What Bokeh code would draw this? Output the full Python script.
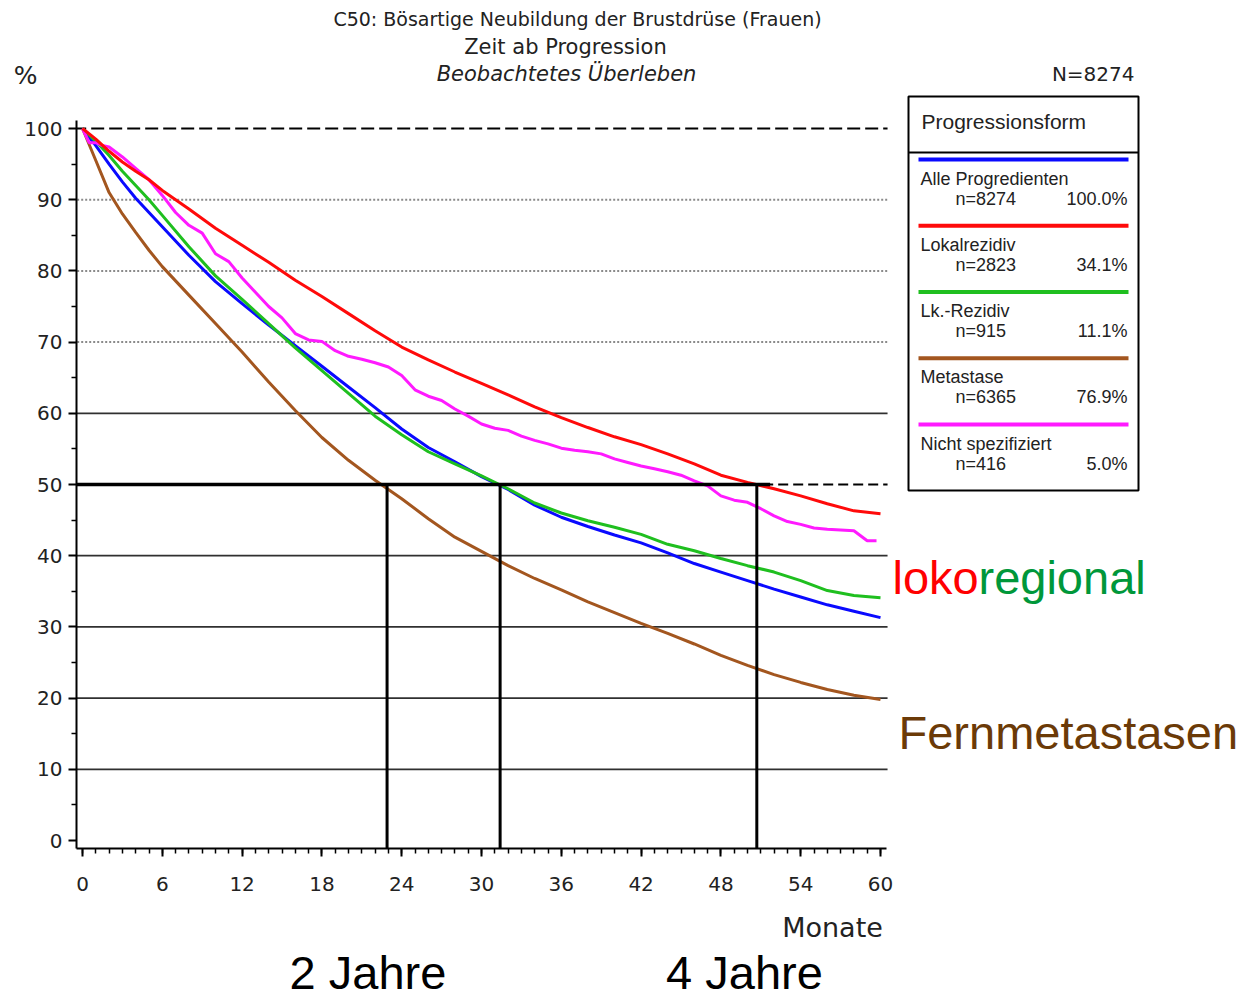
from bokeh.plotting import figure
from bokeh.models import Range1d, FixedTicker, Label, LinearAxis
from bokeh.embed import file_html
from bokeh.resources import INLINE

# ---------------- data ----------------
months = [0, 1, 2, 3, 4, 5, 6, 8, 10, 12, 14, 16, 18, 20, 22, 24, 26, 28, 30,
          32, 34, 36, 38, 40, 42, 44, 46, 48, 50, 52, 54, 56, 58, 60]

alle = [100, 97.6, 95.0, 92.5, 90.2, 88.2, 86.2, 82.2, 78.5, 75.4, 72.4, 69.5,
        66.6, 63.7, 60.8, 57.8, 55.2, 53.2, 51.1, 49.3, 47.1, 45.4, 44.1, 42.9,
        41.8, 40.4, 38.9, 37.7, 36.5, 35.3, 34.2, 33.1, 32.2, 31.3]
lokal = [100, 98.5, 96.8, 95.3, 94.0, 92.8, 91.3, 88.7, 86.0, 83.6, 81.2, 78.7,
         76.4, 74.0, 71.6, 69.3, 67.5, 65.8, 64.2, 62.6, 60.9, 59.4, 58.0, 56.7,
         55.6, 54.3, 52.9, 51.3, 50.3, 49.4, 48.4, 47.3, 46.3, 45.9]
lk = [100, 98.2, 96.2, 94.0, 92.0, 90.0, 87.8, 83.4, 79.3, 76.0, 72.6, 69.2,
      66.0, 62.8, 59.6, 57.0, 54.6, 52.9, 51.2, 49.4, 47.4, 46.0, 44.9, 44.0,
      43.0, 41.6, 40.7, 39.6, 38.6, 37.7, 36.5, 35.1, 34.4, 34.1]
meta = [100, 95.5, 91.0, 88.0, 85.4, 82.9, 80.6, 76.6, 72.6, 68.6, 64.4, 60.4,
        56.6, 53.4, 50.6, 48.0, 45.2, 42.6, 40.6, 38.6, 36.8, 35.2, 33.5, 32.0,
        30.5, 29.1, 27.6, 26.0, 24.6, 23.3, 22.2, 21.2, 20.4, 19.8]

months_ns = [0, 0.5, 1, 1.5, 2, 3, 4, 5, 6, 7, 8, 9, 10, 11, 12, 13, 14, 15, 16,
             17, 18, 19, 20, 21, 22, 23, 24, 25, 26, 27, 28, 29, 30, 31, 32, 33,
             34, 35, 36, 37, 38, 39, 40, 41, 42, 43, 44, 45, 46, 47, 48, 49, 50,
             51, 52, 53, 54, 55, 56, 57, 58, 59, 59.7]
nicht = [100, 98.0, 98.0, 97.6, 97.4, 96.0, 94.4, 92.8, 90.6, 88.2, 86.4, 85.3,
         82.4, 81.3, 79.0, 77.0, 75.0, 73.4, 71.2, 70.3, 70.1, 68.8, 68.0, 67.6,
         67.1, 66.5, 65.3, 63.3, 62.4, 61.8, 60.6, 59.6, 58.5, 57.9, 57.6, 56.8,
         56.2, 55.7, 55.1, 54.8, 54.6, 54.3, 53.6, 53.1, 52.6, 52.2, 51.8, 51.3,
         50.5, 49.8, 48.4, 47.8, 47.5, 46.6, 45.6, 44.8, 44.4, 43.9, 43.7, 43.6,
         43.5, 42.1, 42.1]

medians = [22.9, 31.4, 50.7]

x_ticks = [0, 6, 12, 18, 24, 30, 36, 42, 48, 54, 60]
x_minor = list(range(0, 61))
y_ticks = [0, 10, 20, 30, 40, 50, 60, 70, 80, 90, 100]
y_minor = [5, 15, 25, 35, 45, 55, 65, 75, 85, 95]
solid_levels = [10, 20, 30, 40, 60]
dotted_levels = [70, 80, 90]

legend_names = ["Alle Progredienten", "Lokalrezidiv", "Lk.-Rezidiv",
                "Metastase", "Nicht spezifiziert"]
legend_counts = ["n=8274", "n=2823", "n=915", "n=6365", "n=416"]
legend_shares = ["100.0%", "34.1%", "11.1%", "76.9%", "5.0%"]

# ---------------- styles ----------------
C_BLUE = "#0a0aff"
C_RED = "#ff0a0a"
C_GREEN = "#1fbf1f"
C_BROWN = "#a3561f"
C_MAG = "#ff1aff"
colors = [C_BLUE, C_RED, C_GREEN, C_BROWN, C_MAG]

SAS = "DejaVu Sans"
ARIAL = "Liberation Sans"

# ---------------- figure ----------------
W, H = 1247, 1001
LEFT, BOTTOM = 76, 848
PXM, PXV = 13.3, 7.12           # pixels per month / per percent
X0 = -6 / PXM
X1 = X0 + (W - LEFT) / PXM
Y0 = -8 / PXV
Y1 = Y0 + BOTTOM / PXV


def to_month(px):
    return X0 + (px - LEFT) / PXM


def to_pct(py):
    return Y0 + (BOTTOM - py) / PXV


p = figure(width=W, height=H,
           x_range=Range1d(X0, X1), y_range=Range1d(Y0, Y1),
           output_backend="svg", toolbar_location=None,
           min_border_left=LEFT, min_border_right=0, min_border_top=0,
           min_border_bottom=H - BOTTOM)
p.extra_x_ranges = {"px": Range1d(LEFT, W)}
p.extra_y_ranges = {"px": Range1d(BOTTOM, 0)}
p.outline_line_color = None
p.xgrid.visible = False
p.ygrid.visible = False
p.background_fill_color = "white"
p.border_fill_color = "white"

# axes
xa = p.xaxis[0]
xa.ticker = FixedTicker(ticks=x_ticks, minor_ticks=x_minor)
xa.bounds = (X0, 60.45)
ya = p.yaxis[0]
ya.ticker = FixedTicker(ticks=y_ticks, minor_ticks=y_minor)
ya.bounds = (Y0, 101.12)
for ax in (xa, ya):
    ax.axis_line_width = 2
    ax.axis_line_color = "black"
    ax.major_tick_line_width = 2
    ax.major_tick_line_color = "black"
    ax.minor_tick_line_width = 1.5
    ax.minor_tick_line_color = "black"
    ax.major_tick_in = 0
    ax.major_tick_out = 8
    ax.minor_tick_in = 0
    ax.minor_tick_out = 5
    ax.major_label_text_font = SAS
    ax.major_label_text_font_size = "20px"
    ax.major_label_text_color = "#222222"
ya.major_label_standoff = 6
xa.major_label_standoff = 20


def text_axis(ticks, labels, side, font, size, standoff, color="#222222"):
    ax = LinearAxis(ticker=FixedTicker(ticks=ticks, minor_ticks=[]),
                    major_label_overrides=dict(zip(ticks, labels)),
                    axis_line_color=None, major_tick_line_color=None,
                    minor_tick_line_color=None, major_tick_in=0,
                    major_tick_out=0, minor_tick_in=0, minor_tick_out=0,
                    major_label_standoff=standoff,
                    major_label_text_font=font,
                    major_label_text_font_size=size,
                    major_label_text_color=color)
    p.add_layout(ax, side)
    return ax


# "%" above the y axis, "Monate" and the year marks below the x axis
text_axis([to_pct(75)], ["%"], "left", SAS, "25px", -16)
text_axis([to_month(832)], ["Monate"], "below", SAS, "27px", 18)
text_axis([to_month(367.5), to_month(744)], ["2 Jahre", "4 Jahre"], "below",
          ARIAL, "47px", 0, color="black")

# grid lines
GX0, GX1 = -0.7, 60.53
n = len(solid_levels)
p.segment(x0=[GX0] * n, y0=solid_levels, x1=[GX1] * n, y1=solid_levels,
          line_color="#303030", line_width=1.8)
n = len(dotted_levels)
p.segment(x0=[GX0] * n, y0=dotted_levels, x1=[GX1] * n, y1=dotted_levels,
          line_color="#8a8a8a", line_width=2, line_dash="2 2")
p.segment(x0=[GX0], y0=[100], x1=[GX1], y1=[100],
          line_color="black", line_width=2, line_dash="13 5")
p.segment(x0=[GX0], y0=[50], x1=[GX1], y1=[50],
          line_color="black", line_width=2, line_dash="10 5")

# curves
p.line(months, alle, line_color=C_BLUE, line_width=3)
p.line(months, lk, line_color=C_GREEN, line_width=3)
p.line(months, meta, line_color=C_BROWN, line_width=3)
p.line(months_ns, nicht, line_color=C_MAG, line_width=3)
p.line(months, lokal, line_color=C_RED, line_width=3)

# median markers
p.segment(x0=[X0], y0=[50], x1=[max(medians) + 1.0], y1=[50],
          line_color="black", line_width=3.5)
k = len(medians)
p.segment(x0=medians, y0=[50] * k, x1=medians, y1=[Y0] * k,
          line_color="black", line_width=3)

# legend box (pixel coordinates)
p.quad(left=[908], right=[1138], top=[96], bottom=[490],
       fill_color="white", line_color="black", line_width=2,
       x_range_name="px", y_range_name="px")
p.segment(x0=[908], y0=[152], x1=[1138], y1=[152], line_color="black",
          line_width=2, x_range_name="px", y_range_name="px")
p.add_layout(Label(x=921, y=121, text="Progressionsform", text_font=ARIAL,
                   text_font_size="21px", text_baseline="middle",
                   text_color="#222222",
                   x_range_name="px", y_range_name="px"))
STEP = 66.25
for i in range(5):
    yl = 159 + STEP * i
    p.segment(x0=[918], y0=[yl], x1=[1128], y1=[yl], line_color=colors[i],
              line_width=4, x_range_name="px", y_range_name="px")
    p.add_layout(Label(x=920, y=yl + 19, text=legend_names[i], text_font=ARIAL,
                       text_font_size="18px", text_baseline="middle",
                       text_color="#222222",
                       x_range_name="px", y_range_name="px"))
    p.add_layout(Label(x=955, y=yl + 39, text=legend_counts[i], text_font=ARIAL,
                       text_font_size="18px", text_baseline="middle",
                       text_color="#222222",
                       x_range_name="px", y_range_name="px"))
    p.add_layout(Label(x=1127, y=yl + 39, text=legend_shares[i], text_font=ARIAL,
                       text_font_size="18px", text_baseline="middle",
                       text_align="right", text_color="#222222",
                       x_range_name="px", y_range_name="px"))


def lab(x, y, text, font=SAS, size="20px", align="left", baseline="middle",
        color="#222222", style="normal"):
    p.add_layout(Label(x=x, y=y, text=text, text_font=font, text_font_size=size,
                       text_align=align, text_baseline=baseline,
                       text_color=color, text_font_style=style,
                       x_range_name="px", y_range_name="px"))


# titles
lab(577, 18, "C50: Bösartige Neubildung der Brustdrüse (Frauen)", size="19px",
    align="center")
lab(565, 46, "Zeit ab Progression", size="21px", align="center")
lab(566, 73, "Beobachtetes Überleben", size="21px", align="center",
    style="italic")
lab(1134, 73, "N=8274", size="20px", align="right")

# slide annotations
lab(892, 577, "loko", font=ARIAL, size="47px", baseline="alphabetic",
    color="#ff0000")
lab(978, 577, "regional", font=ARIAL, size="47px", baseline="alphabetic",
    color="#00973a")
lab(898, 732, "Fernmetastasen", font=ARIAL, size="47px", baseline="alphabetic",
    color="#6b3a07")

open("out.html", "w").write(file_html(p, INLINE))
